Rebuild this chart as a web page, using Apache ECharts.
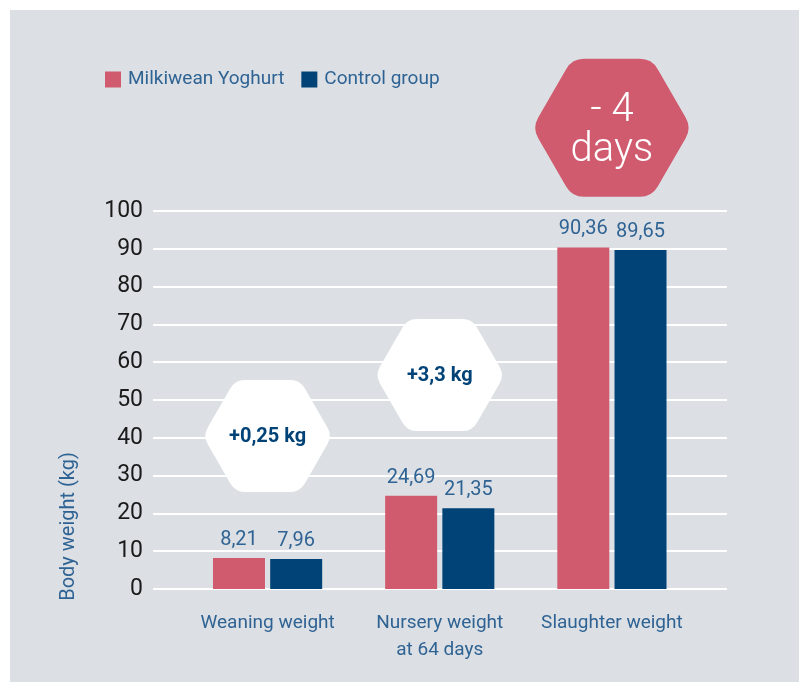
<!DOCTYPE html>
<html>
<head>
<meta charset="utf-8">
<script src="https://cdn.jsdelivr.net/npm/echarts@6/dist/echarts.min.js"></script>
<style>
  html, body { margin: 0; padding: 0; background: #ffffff; }
  #chart { position: absolute; left: 10px; top: 10px; width: 789px; height: 672px; background: #DCE0E4; }
</style>
</head>
<body>
<div id="chart"></div>
<script>
// ---- data ----
const categories = ['Weaning weight', 'Nursery weight\nat 64 days', 'Slaughter weight'];
const seriesNames = ['Milkiwean Yoghurt', 'Control group'];
const yoghurtValues = [8.21, 24.69, 90.36];
const controlValues = [7.96, 21.35, 89.65];
const yTicks = { min: 0, max: 100, interval: 10 };
const yAxisName = 'Body weight (kg)';
// annotation badges: category index, y value of badge centre, text
const badgeCats = [0, 1, 2];
const badgeValues = [40.5, 56.6, 122];
const badgeTexts = ['+0,25 kg', '+3,3 kg', '- 4\ndays'];

// ---- styles ----
const PINK = '#D05B6E';
const NAVY = '#014377';
const TEXT_BLUE = '#2F6394';
const FONT = 'Roboto, "Noto Sans", sans-serif';
const HEX_PATH = 'M65 0 L135 0 Q150 0 157.5 13 L192.5 73.6 Q200 86.6 192.5 99.6 L157.5 160.2 Q150 173.2 135 173.2 L65 173.2 Q50 173.2 42.5 160.2 L7.5 99.6 Q0 86.6 7.5 73.6 L42.5 13 Q50 0 65 0 Z';

const fmt = v => v.toFixed(2).replace('.', ',');

const chart = echarts.init(document.getElementById('chart'), null, { renderer: 'canvas' });

const badgeData = badgeCats.map((c, i) => [c, badgeValues[i], badgeTexts[i]]);

chart.setOption({
  animation: false,
  textStyle: { fontFamily: FONT },
  legend: {
    left: 95, top: 60, padding: 0,
    icon: 'rect', itemWidth: 16, itemHeight: 16, itemGap: 17,
    textStyle: { color: TEXT_BLUE, fontSize: 19, fontFamily: FONT, padding: [0, 0, 0, 2] },
    data: seriesNames
  },
  grid: [
    { left: 143, right: 72, top: 201, bottom: 93 },
    { left: 171.5, right: 101, top: 201, bottom: 93 }
  ],
  xAxis: [
    { gridIndex: 0, type: 'value', show: false, min: 0, max: 1 },
    {
      gridIndex: 1, type: 'category', data: categories,
      axisLine: { show: false }, axisTick: { show: false },
      axisLabel: { interval: 0, color: TEXT_BLUE, fontSize: 19, lineHeight: 27, margin: 21, fontFamily: FONT }
    }
  ],
  yAxis: [
    {
      gridIndex: 0, type: 'value', min: yTicks.min, max: yTicks.max, interval: yTicks.interval,
      axisLine: { show: false }, axisTick: { show: false },
      splitLine: { lineStyle: { color: '#ffffff', width: 2 } },
      axisLabel: { color: '#1a1a1a', fontSize: 23, margin: 10, fontFamily: FONT, padding: [4, 0, 0, 0] }
    },
    {
      gridIndex: 1, type: 'value', min: yTicks.min, max: yTicks.max, interval: yTicks.interval,
      show: false
    }
  ],
  graphic: [
    {
      type: 'text', left: 49, top: 442, rotation: Math.PI / 2,
      style: { text: yAxisName, fill: TEXT_BLUE, font: '20px ' + FONT }
    }
  ],
  series: [
    {
      name: seriesNames[0], type: 'bar', xAxisIndex: 1, yAxisIndex: 1,
      data: yoghurtValues, barWidth: 52, barGap: '10%',
      itemStyle: { color: PINK },
      label: { show: true, position: 'top', distance: 8, color: TEXT_BLUE, fontSize: 20, fontFamily: FONT, formatter: p => fmt(p.value) }
    },
    {
      name: seriesNames[1], type: 'bar', xAxisIndex: 1, yAxisIndex: 1,
      data: controlValues, barWidth: 52, barGap: '10%',
      itemStyle: { color: NAVY },
      label: { show: true, position: 'top', distance: 8, color: TEXT_BLUE, fontSize: 20, fontFamily: FONT, formatter: p => fmt(p.value) }
    },
    {
      type: 'custom', xAxisIndex: 1, yAxisIndex: 1, clip: false, z: 5,
      data: badgeData,
      encode: { x: 0, y: 1 },
      renderItem: (params, api) => {
        const idx = params.dataIndex;
        const c = api.coord([api.value(0), api.value(1)]);
        const big = idx === 2;
        const w = big ? 158 : 130;
        const h = big ? 138 : 112;
        const text = badgeTexts[idx];
        return {
          type: 'group',
          children: [
            {
              type: 'path',
              shape: { pathData: HEX_PATH, x: c[0] - w / 2, y: c[1] - h / 2, width: w, height: h },
              style: { fill: big ? PINK : '#ffffff' }
            },
            {
              type: 'text', x: c[0], y: c[1] + (big ? 3 : 1),
              style: big ? {
                text: text, fill: '#ffffff', align: 'center', verticalAlign: 'middle',
                font: '300 40px ' + FONT, lineHeight: 40
              } : {
                text: text, fill: NAVY, align: 'center', verticalAlign: 'middle',
                font: 'bold 20px ' + FONT
              }
            }
          ]
        };
      }
    }
  ]
});
</script>
</body>
</html>
